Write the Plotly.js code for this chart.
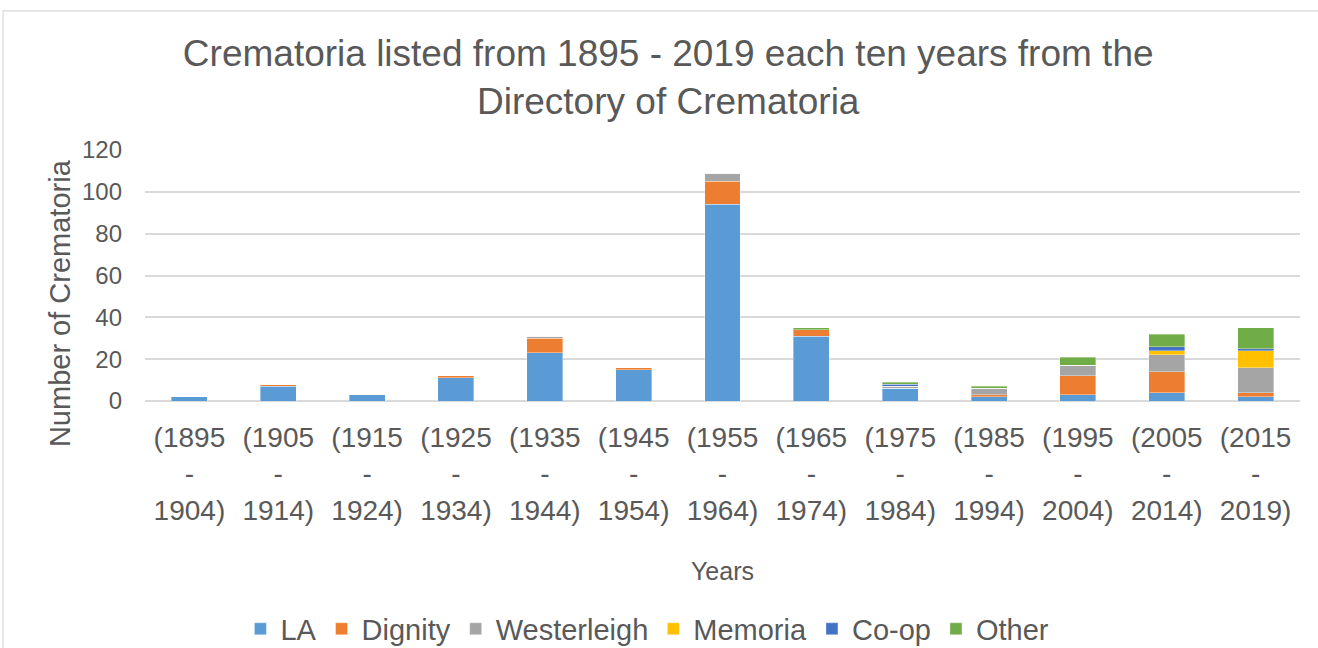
<!DOCTYPE html>
<html>
<head>
<meta charset="utf-8">
<script src="https://cdn.plot.ly/plotly-3.0.1.min.js"></script>
<style>
html,body{margin:0;padding:0;background:#fff;}
#chart{width:1318px;height:648px;}
</style>
</head>
<body>
<div id="chart"></div>
<script>
var categories = ["(1895 - 1904)","(1905 - 1914)","(1915 - 1924)","(1925 - 1934)","(1935 - 1944)","(1945 - 1954)","(1955 - 1964)","(1965 - 1974)","(1975 - 1984)","(1985 - 1994)","(1995 - 2004)","(2005 - 2014)","(2015 - 2019)"];
var la          = [2, 7, 3, 11, 23, 15, 94, 31, 6, 2, 3, 4, 2];
var dignity     = [0, 1, 0, 1, 7, 1, 11, 3, 0, 1, 9, 10, 2];
var westerleigh = [0, 0, 0, 0, 1, 0, 4, 0, 1, 3, 5, 8, 12];
var memoria     = [0, 0, 0, 0, 0, 0, 0, 0, 0, 0, 0, 2, 8];
var coop        = [0, 0, 0, 0, 0, 0, 0, 0, 1, 0, 0, 2, 1];
var other       = [0, 0, 0, 0, 0, 0, 0, 1, 1, 1, 4, 6, 10];
var yTicks = [0, 20, 40, 60, 80, 100, 120];

var seriesNames = ["LA","Dignity","Westerleigh","Memoria","Co-op","Other"];
var seriesData = [la, dignity, westerleigh, memoria, coop, other];
var colors = ["#5B9BD5","#ED7D31","#A5A5A5","#FFC000","#4472C4","#70AD47"];

var traces = seriesNames.map(function(n, i){
  return {
    type: "bar",
    name: n,
    x: categories,
    y: seriesData[i],
    marker: {color: colors[i], line: {color: "rgba(255,255,255,0.6)", width: 0.6}},
    hoverinfo: "x+y+name"
  };
});

var tickText = categories.map(function(c){ return c.split(" ").join("<br>"); });

var font = "Liberation Sans, Arial, sans-serif";
var textColor = "#595959";

var layout = {
  width: 1318, height: 648,
  margin: {l: 145, r: 18, t: 150, b: 247, autoexpand: false},
  paper_bgcolor: "#fff", plot_bgcolor: "#fff",
  barmode: "stack",
  bargap: 0.595,
  font: {family: font, color: textColor},
  title: {
    text: "Crematoria listed from 1895 - 2019 each ten years from the<br>Directory of Crematoria",
    font: {family: font, size: 37, color: textColor},
    x: 0.507, xanchor: "center",
    y: 0.898, yanchor: "middle"
  },
  xaxis: {
    type: "category",
    automargin: false,
    tickmode: "array",
    tickvals: categories,
    ticktext: tickText,
    tickfont: {family: font, size: 28, color: textColor},
    showgrid: false,
    showline: false,
    zeroline: false,
    ticks: "",
    ticklabelstandoff: 17,
    title: {text: "Years", font: {family: font, size: 25, color: textColor}, standoff: 37}
  },
  yaxis: {
    range: [0, 120],
    automargin: false,
    tickmode: "array",
    tickvals: yTicks,
    ticktext: yTicks.map(String),
    tickfont: {family: font, size: 24, color: textColor},
    showgrid: true,
    gridcolor: "#D9D9D9",
    gridwidth: 1.5,
    zeroline: true,
    zerolinecolor: "#D9D9D9",
    zerolinewidth: 1.5,
    showline: false,
    ticks: "",
    ticklabelstandoff: 22
  },
  annotations: [{
    text: "Number of Crematoria",
    xref: "paper", yref: "paper",
    x: -0.0736, y: 0.39,
    xanchor: "center", yanchor: "middle",
    textangle: -90,
    showarrow: false,
    font: {family: font, size: 29, color: textColor}
  }],
  legend: {
    orientation: "h",
    x: 0.435, xanchor: "center",
    y: -0.908, yanchor: "middle",
    traceorder: "normal",
    font: {family: font, size: 29, color: textColor},
    itemwidth: 30
  },
  shapes: [{
    type: "rect", xref: "paper", yref: "paper",
    x0: -0.1229, x1: 1.2, y0: -1.3, y1: 1.554,
    line: {color: "#D9D9D9", width: 1.2},
    fillcolor: "rgba(0,0,0,0)",
    layer: "below"
  }],
  showlegend: true
};

Plotly.newPlot("chart", traces, layout, {displayModeBar: false, staticPlot: false});
</script>
</body>
</html>
